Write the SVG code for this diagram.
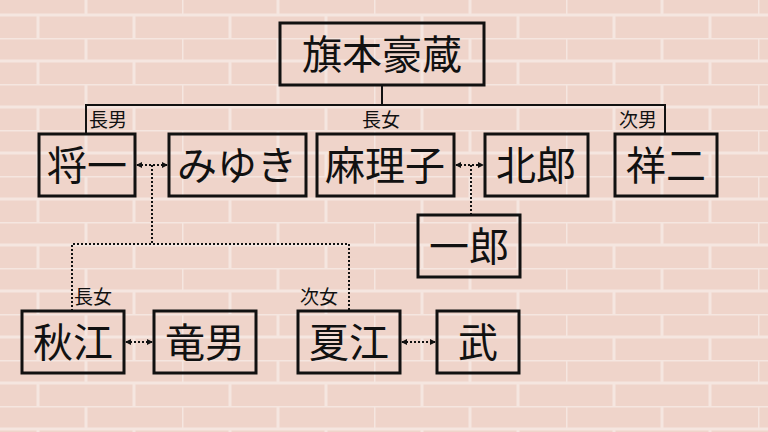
<svg xmlns="http://www.w3.org/2000/svg" width="768" height="432" viewBox="0 0 768 432">
<style>
.box{fill:none;stroke:#111;stroke-width:3}
.n{font-family:"Noto Sans CJK JP",sans-serif;font-size:40px;fill:#111;text-anchor:middle}
.l{font-family:"Noto Sans CJK JP",sans-serif;font-size:19px;fill:#111}
.s{fill:none;stroke:#111;stroke-width:2}
.d{fill:none;stroke:#111;stroke-width:2;stroke-dasharray:2 2}
</style>
<defs>
<pattern id="brick" width="192" height="46" patternUnits="userSpaceOnUse" x="-10" y="-8">
<rect width="192" height="46" fill="#efd4ca"/>
<g stroke="#f5e6e0" stroke-width="3">
<line x1="0" y1="0" x2="192" y2="0"/><line x1="0" y1="23" x2="192" y2="23"/>
<line x1="0" y1="0" x2="0" y2="23"/><line x1="96" y1="0" x2="96" y2="23"/>
<line x1="48" y1="23" x2="48" y2="46"/><line x1="144" y1="23" x2="144" y2="46"/>
</g>
</pattern>
<marker id="a" viewBox="0 0 6 6" refX="5" refY="3" markerWidth="3" markerHeight="3" orient="auto-start-reverse"><path d="M0,0L6,3L0,6z" fill="#111"/></marker>
</defs>
<rect width="768" height="432" fill="url(#brick)"/>
<g id="connectors">
<path class="s" d="M382,85V105M86,134V105H665V134"/>
<line class="d" x1="137" y1="165" x2="167" y2="165" marker-start="url(#a)" marker-end="url(#a)"/>
<line class="d" x1="456" y1="165" x2="483" y2="165" marker-start="url(#a)" marker-end="url(#a)"/>
<line class="d" x1="126" y1="342" x2="152" y2="342" marker-start="url(#a)" marker-end="url(#a)"/>
<line class="d" x1="402" y1="342" x2="435" y2="342" marker-start="url(#a)" marker-end="url(#a)"/>
<path class="d" d="M152,165V244M72,311V244H349V311M471,165V215"/>
</g>
<g id="n0"><rect class="box" x="280" y="23" width="204" height="62"/><text class="n" x="382" y="69">旗本豪蔵</text></g>
<g id="n1"><rect class="box" x="39" y="134" width="96" height="62"/><text class="n" x="87" y="180">将一</text><text class="l" x="89" y="127">長男</text></g>
<g id="n2"><rect class="box" x="169" y="134" width="137" height="62"/><text class="n" x="237" y="180">みゆき</text></g>
<g id="n3"><rect class="box" x="317" y="134" width="137" height="62"/><text class="n" x="385" y="180">麻理子</text><text class="l" x="362" y="127">長女</text></g>
<g id="n4"><rect class="box" x="485" y="134" width="103" height="62"/><text class="n" x="536" y="180">北郎</text></g>
<g id="n5"><rect class="box" x="615" y="134" width="102" height="62"/><text class="n" x="666" y="180">祥二</text><text class="l" x="619" y="127">次男</text></g>
<g id="n6"><rect class="box" x="418" y="215" width="102" height="62"/><text class="n" x="469" y="261">一郎</text></g>
<g id="n7"><rect class="box" x="22" y="311" width="102" height="62"/><text class="n" x="73" y="357">秋江</text><text class="l" x="74" y="304">長女</text></g>
<g id="n8"><rect class="box" x="154" y="311" width="102" height="62"/><text class="n" x="205" y="357">竜男</text></g>
<g id="n9"><rect class="box" x="298" y="311" width="102" height="62"/><text class="n" x="349" y="357">夏江</text><text class="l" x="300" y="304">次女</text></g>
<g id="n10"><rect class="box" x="437" y="311" width="82" height="62"/><text class="n" x="478" y="357">武</text></g>
</svg>
